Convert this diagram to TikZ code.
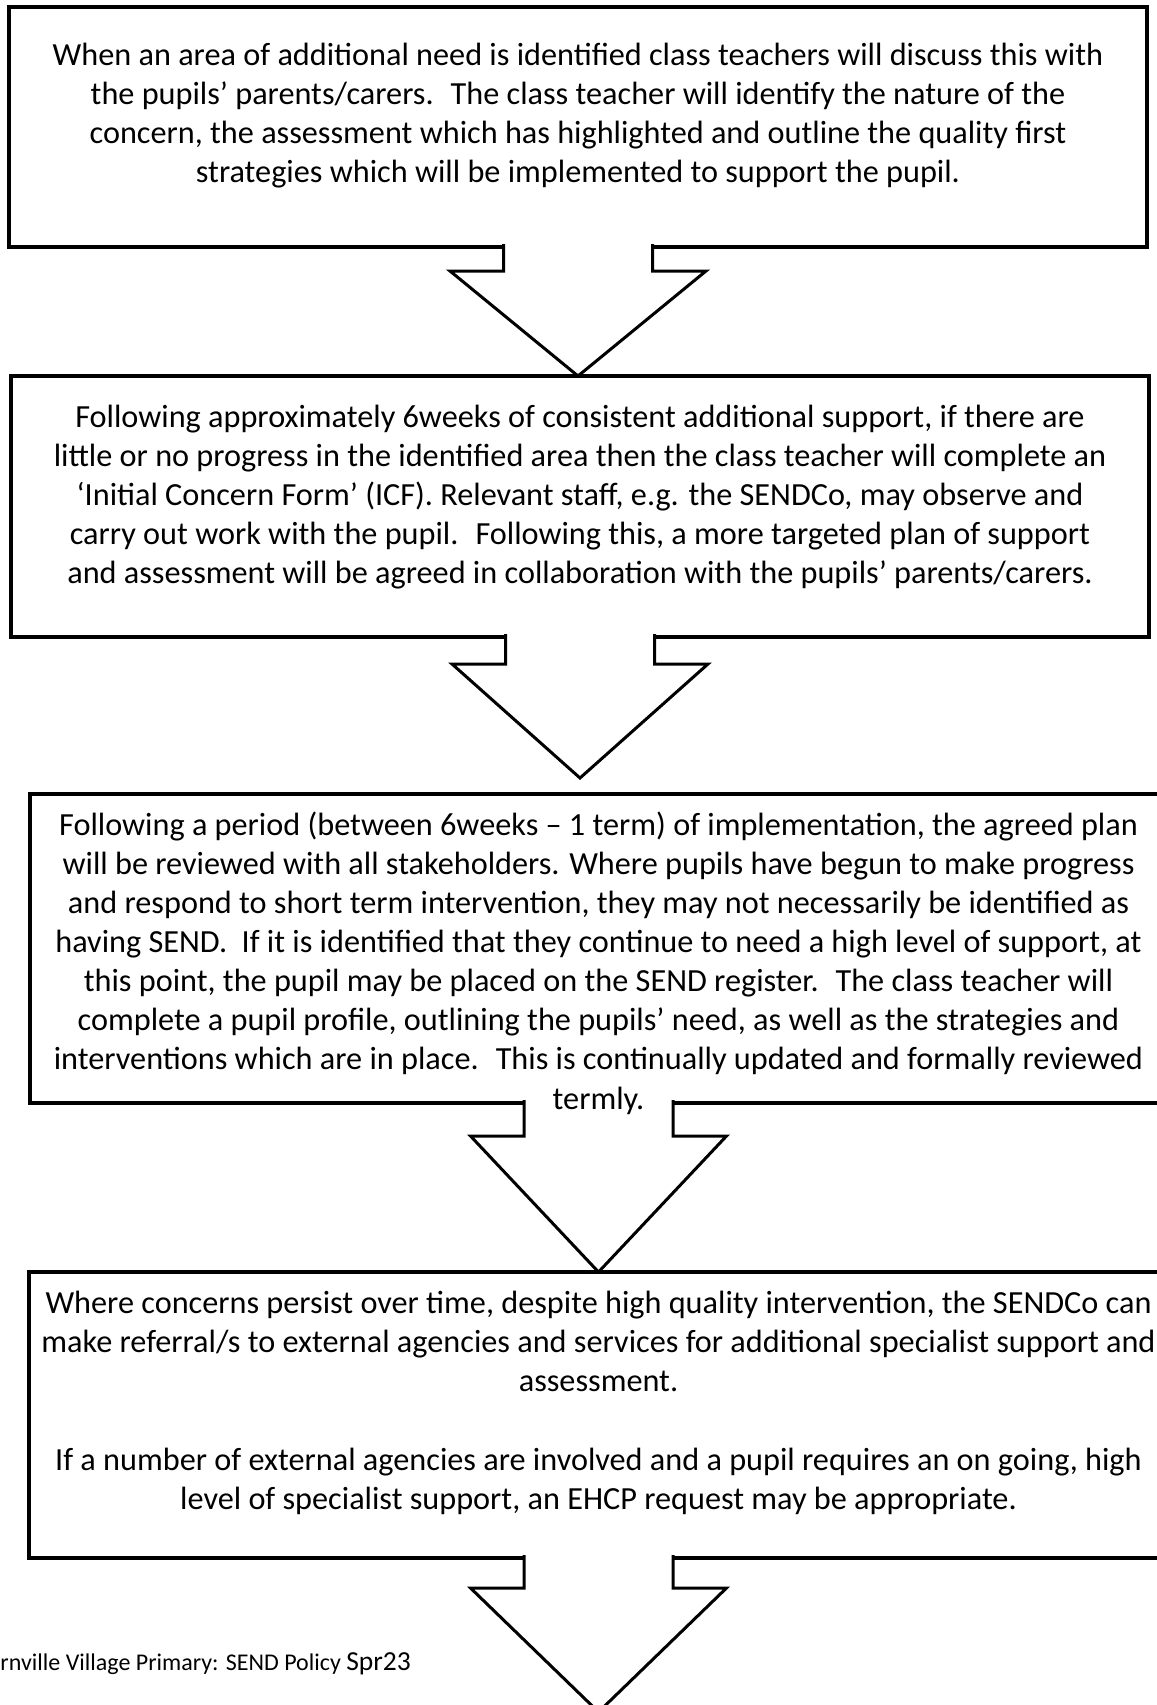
\documentclass[tikz,border=0pt]{standalone}
\usepackage{fontspec}
\setmainfont{Carlito}
\usetikzlibrary{positioning,calc}

\newcommand{\stepdown}[3]{%
  \filldraw [arrowbox] ($(#1.south)+(-74.5,3)$) -- ($(#1.south)+(-74.5,-#2)$) -- ($(#1.south)+(-128,-#2)$) -- (#1.south |- #3) -- ($(#1.south)+(128,-#2)$) -- ($(#1.south)+(74.5,-#2)$) -- ($(#1.south)+(74.5,3)$);}

\begin{document}
\begin{tikzpicture}[x=0.4pt,y=0.4pt]
    \tikzstyle{every node}+=[inner sep=0pt]
    \tikzstyle{box}=[draw=black, line width=1.4pt, outer sep=0pt, rectangle]
    \tikzstyle{arrowbox}=[draw=black, fill=white, line width=1.2pt, line join=miter]
    \tikzstyle{para}=[align=center, font={\fontsize{12.9pt}{15.64pt}\selectfont}]
    \useasboundingbox (0,0) rectangle (1157,-1705);
    % frames
    \node [box, minimum width=455.2pt, minimum height=96pt] (box1) at (578,-127) {};
    \node [box, minimum width=455.2pt, minimum height=104.4pt] (box2) at (580,-506.5) {};
    \node [box, minimum width=454.8pt, minimum height=123.6pt] (box3) at (598.5,-948.5) {};
    \node [box, minimum width=455.6pt, minimum height=114.4pt] (box4) at (598.5,-1415) {};
    \coordinate (tip2) at (580,-778);
    \coordinate (tip4) at (598,-1712);
    % block arrows
    \stepdown{box1}{24}{box2.north}
    \stepdown{box2}{27}{tip2}
    \stepdown{box3}{33}{box4.north}
    \stepdown{box4}{30}{tip4}
    % texts
    \node [para] (text1) at (578,-115.5) {When an area of additional need is identified class teachers will discuss this with\\
      the pupils’ parents/carers.~ The class teacher will identify the nature of the\\
      concern, the assessment which has highlighted and outline the quality first\\
      strategies which will be implemented to support the pupil.};
    \node [para] (text2) at (580,-497) {Following approximately 6weeks of consistent additional support, if there are\\
      little or no progress in the identified area then the class teacher will complete an\\
      ‘Initial Concern Form’ (ICF). Relevant staff, e.g. the SENDCo, may observe and\\
      carry out work with the pupil.~ Following this, a more targeted plan of support\\
      and assessment will be agreed in collaboration with the pupils’ parents/carers.};
    \node [para] (text3) at (598.5,-963) {Following a period (between 6weeks – 1 term) of implementation, the agreed plan\\
      will be reviewed with all stakeholders. Where pupils have begun to make progress\\
      and respond to short term intervention, they may not necessarily be identified as\\
      having SEND.~ If it is identified that they continue to need a high level of support, at\\
      this point, the pupil may be placed on the SEND register.~ The class teacher will\\
      complete a pupil profile, outlining the pupils’ need, as well as the strategies and\\
      interventions which are in place.~ This is continually updated and formally reviewed\\
      termly.};
    \node [para] (text4) at (598.5,-1403) {Where concerns persist over time, despite high quality intervention, the SENDCo can\\
      make referral/s to external agencies and services for additional specialist support and\\
      assessment.\\[15.7pt]
      If a number of external agencies are involved and a pupil requires an on going, high\\
      level of specialist support, an EHCP request may be appropriate.};
    \node [anchor=base west] (footer) at (0,-1670) {\fontsize{9.6pt}{11pt}\selectfont rnville Village Primary: SEND Policy {\fontsize{11pt}{12pt}\selectfont Spr23}};
\end{tikzpicture}
\end{document}
